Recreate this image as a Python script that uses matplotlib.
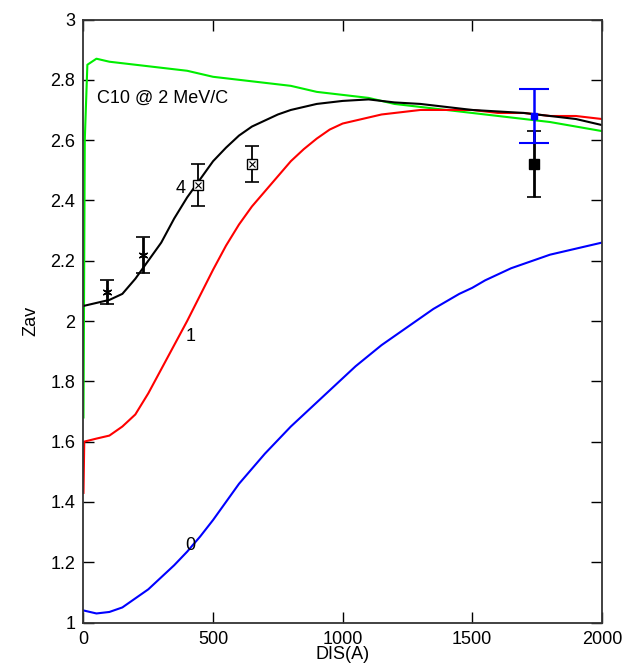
import matplotlib
matplotlib.use("Agg")
import matplotlib.pyplot as plt
from matplotlib.ticker import FormatStrFormatter

plt.rcParams['font.family'] = ['Liberation Sans', 'DejaVu Sans']

# Curve data (DIS in A, Zav)
x_blue = [0, 50, 100, 150, 200, 250, 300, 350, 400, 450, 500, 550, 600, 650, 700,
          750, 800, 850, 900, 950, 1000, 1050, 1100, 1150, 1200, 1250, 1300, 1350,
          1400, 1450, 1500, 1550, 1600, 1650, 1700, 1750, 1800, 1850, 1900, 1950, 2000]
y_blue = [1.04, 1.03, 1.035, 1.05, 1.08, 1.11, 1.15, 1.19, 1.235, 1.285, 1.34, 1.40,
          1.46, 1.51, 1.56, 1.605, 1.65, 1.69, 1.73, 1.77, 1.81, 1.85, 1.885, 1.92,
          1.95, 1.98, 2.01, 2.04, 2.065, 2.09, 2.11, 2.135, 2.155, 2.175, 2.19,
          2.205, 2.22, 2.23, 2.24, 2.25, 2.26]

x_red = [0, 3, 50, 100, 150, 200, 250, 300, 350, 400, 450, 500, 550, 600, 650, 700,
         750, 800, 850, 900, 950, 1000, 1050, 1100, 1150, 1200, 1300, 1400, 1500,
         1600, 1700, 1800, 1900, 2000]
y_red = [1.43, 1.60, 1.61, 1.62, 1.65, 1.69, 1.76, 1.84, 1.92, 2.00, 2.085, 2.17,
         2.25, 2.32, 2.38, 2.43, 2.48, 2.53, 2.57, 2.605, 2.635, 2.655, 2.665, 2.675,
         2.685, 2.69, 2.70, 2.70, 2.70, 2.69, 2.69, 2.68, 2.68, 2.67]

x_black = [0, 50, 100, 150, 200, 250, 300, 350, 400, 450, 500, 550, 600, 650, 700,
           750, 800, 850, 900, 950, 1000, 1100, 1200, 1300, 1400, 1500, 1600, 1700,
           1800, 1900, 2000]
y_black = [2.05, 2.06, 2.07, 2.09, 2.14, 2.20, 2.26, 2.34, 2.41, 2.47, 2.53, 2.575,
           2.615, 2.645, 2.665, 2.685, 2.70, 2.71, 2.72, 2.725, 2.73, 2.735, 2.725, 2.72,
           2.71, 2.70, 2.695, 2.69, 2.68, 2.67, 2.65]

x_green = [0, 5, 15, 50, 100, 150, 200, 300, 400, 500, 600, 700, 800, 900, 1000,
           1100, 1200, 1300, 1400, 1500, 1600, 1700, 1800, 1900, 2000]
y_green = [1.68, 2.60, 2.85, 2.87, 2.86, 2.855, 2.85, 2.84, 2.83, 2.81, 2.80, 2.79,
           2.78, 2.76, 2.75, 2.74, 2.72, 2.71, 2.70, 2.69, 2.68, 2.67, 2.66, 2.645,
           2.63]

# experimental points
exp_star_x = [91, 230]
exp_star_y = [2.095, 2.22]
exp_star_err = [0.04, 0.06]
exp_box_x = [442, 650]
exp_box_y = [2.45, 2.52]
exp_box_err = [0.07, 0.06]
exp_fill_x = [1739]
exp_fill_y = [2.52]
exp_fill_err = [0.11]
exp_blue_x = [1739]
exp_blue_y = [2.68]
exp_blue_err = [0.088]

fig = plt.figure(figsize=(6.23, 6.66), dpi=100)
ax = fig.add_axes([0.134, 0.0653, 0.832, 0.9054])

ax.plot(x_green, y_green, color='#00ee00', lw=1.5)
ax.plot(x_red, y_red, color='#ff0000', lw=1.5)
ax.plot(x_blue, y_blue, color='#0000ff', lw=1.5)
ax.plot(x_black, y_black, color='black', lw=1.5)

ax.errorbar(exp_star_x, exp_star_y, yerr=exp_star_err, fmt='none', ecolor='black',
            elinewidth=2, capsize=5, capthick=1.2)
ax.plot(exp_star_x, exp_star_y, ls='none', marker=(6, 2, 0), color='black', ms=7, mew=1)
ax.errorbar(exp_box_x, exp_box_y, yerr=exp_box_err, fmt='none', ecolor='black',
            elinewidth=1.3, capsize=5, capthick=1.2)
ax.plot(exp_box_x, exp_box_y, ls='none', marker='s', mfc='white', mec='black', ms=7, mew=1)
ax.plot(exp_box_x, exp_box_y, ls='none', marker='x', color='black', ms=5, mew=0.8)
ax.errorbar(exp_fill_x, exp_fill_y, yerr=exp_fill_err, fmt='none', ecolor='black',
            elinewidth=2, capsize=5, capthick=1.2)
ax.plot(exp_fill_x, exp_fill_y, ls='none', marker='s', color='black', ms=7)
ax.errorbar(exp_blue_x, exp_blue_y, yerr=exp_blue_err, fmt='none', ecolor='#0000ff',
            elinewidth=1.8, capsize=11, capthick=1.5)
ax.plot(exp_blue_x, exp_blue_y, ls='none', marker='s', color='#0000ff', ms=5)

ax.text(52, 2.74, 'C10 @ 2 MeV/C', fontsize=13, va='center', ha='left')
ax.text(375, 2.44, '4', fontsize=13, va='center', ha='center')
ax.text(412, 1.95, '1', fontsize=13, va='center', ha='center')
ax.text(412, 1.256, '0', fontsize=13, va='center', ha='center')

ax.set_xlim(0, 2000)
ax.set_ylim(1, 3)
ax.set_xticks([0, 500, 1000, 1500, 2000])
ax.set_yticks([1, 1.2, 1.4, 1.6, 1.8, 2, 2.2, 2.4, 2.6, 2.8, 3])
ax.yaxis.set_major_formatter(FormatStrFormatter('%g'))
ax.tick_params(direction='in', length=8, width=1, top=True, right=True,
               labelsize=13, pad=6)
for s in ax.spines.values():
    s.set_linewidth(1.3)
    s.set_color('#333333')

ax.set_xlabel('DIS(A)', fontsize=13, labelpad=-1)
ax.set_ylabel('Zav', fontsize=13, labelpad=8)

fig.savefig('out.png', dpi=100)
